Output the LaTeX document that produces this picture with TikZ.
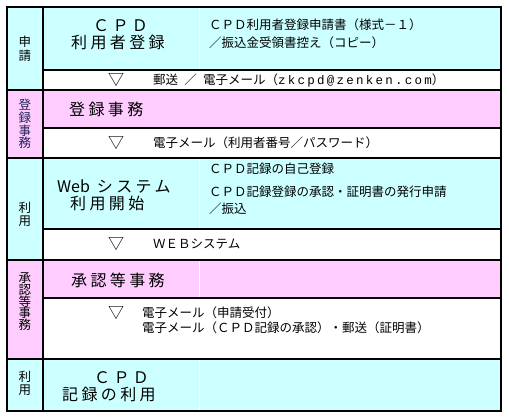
\documentclass[tikz,border=0pt]{standalone}
\usepackage{fontspec}
\setmainfont{Noto Sans CJK JP}
\newfontfamily\bigf[LetterSpace=21]{Noto Sans CJK JP}
\newfontfamily\plainf{Noto Sans CJK JP}
\newfontfamily\monof[LetterSpace=18]{Liberation Mono}
\definecolor{cy}{HTML}{CCFFFF}
\definecolor{pk}{HTML}{FFCCFF}
\definecolor{navy}{HTML}{222255}
\begin{document}
\begin{tikzpicture}[x=1pt,y=-1pt,
  big/.style={inner sep=0pt,anchor=west,text height=12pt,text depth=0pt,font=\bigf\fontsize{16}{16}\selectfont},
  small/.style={inner sep=0pt,anchor=west,font=\fontsize{12.5}{12.5}\selectfont},
  side/.style={inner sep=0pt,font=\fontsize{12.5}{12.5}\selectfont},
  tri/.style={inner sep=0pt,font=\fontsize{16}{16}\selectfont},
  rule/.style={line width=1.1pt},
  wdiv/.style={white,line width=1pt}]
\useasboundingbox (0,0) rectangle (509,418);
% backgrounds
\fill[white] (7,7) rectangle (501,411);
\fill[cy] (7,7) rectangle (501,70);
\fill[cy] (7,7) rectangle (43,90);
\fill[pk] (7,90) rectangle (501,128);
\fill[pk] (7,90) rectangle (43,158);
\fill[cy] (7,158) rectangle (501,229);
\fill[cy] (7,158) rectangle (43,260);
\fill[pk] (7,260) rectangle (501,298);
\fill[pk] (7,260) rectangle (43,359);
\fill[cy] (7,359) rectangle (501,411);
% white dividers
\draw[wdiv] (199,8) -- (199,69);
\draw[wdiv] (199,159) -- (199,228);
\draw[wdiv] (199,261) -- (199,297);
\draw[wdiv] (199,360) -- (199,410);
% rules
\draw[rule] (7,90) -- (501,90);
\draw[rule] (7,158) -- (501,158);
\draw[rule] (7,260) -- (501,260);
\draw[rule] (7,359) -- (501,359);
\draw[rule] (43,70) -- (501,70);
\draw[rule] (43,128) -- (501,128);
\draw[rule] (43,229) -- (501,229);
\draw[rule] (43,298) -- (501,298);
\draw[rule] (43,7) -- (43,411);
\draw[rule] (7,7) rectangle (501,411);
% left column
\node[side] (s1a) at (25,42) {申};
\node[side] (s1b) at (25,56) {請};
\node[side,navy] (s2a) at (25,105) {登};
\node[side,navy] (s2b) at (25,118) {録};
\node[side,navy] (s2c) at (25,131) {事};
\node[side,navy] (s2d) at (25,143) {務};
\node[side] (s3a) at (25,208) {利};
\node[side] (s3b) at (25,221) {用};
\node[side] (s4a) at (25,278) {承};
\node[side] (s4b) at (25,290) {認};
\node[side] (s4c) at (25,302) {等};
\node[side] (s4d) at (25,313) {事};
\node[side] (s4e) at (25,325) {務};
\node[side] (s5a) at (25,377) {利};
\node[side] (s5b) at (25,390) {用};
% row 1
\node[big] (r1a) at (93,25) {ＣＰＤ};
\node[big] (r1b) at (71,42) {利用者登録};
\node[small] (r1c) at (209,25) {ＣＰＤ利用者登録申請書（様式－１）};
\node[small] (r1d) at (209,43) {／振込金受領書控え（コピー）};
\node[tri] (t1) at (116,80) {▽};
\node[small] (r1e) at (153,80) {郵送\enspace{}／\enspace{}電子メール（{\monof\fontsize{12.5}{12.5}\selectfont zkcpd@zenken.com}）};
% row 2
\node[big] (r2a) at (69,109) {登録事務};
\node[tri] (t2) at (116,143) {▽};
\node[small] (r2b) at (153,143) {電子メール（利用者番号／パスワード）};
% row 3
\node[big] (r3a) at (57,186) {{\plainf Web} システム};
\node[big] (r3b) at (70,203) {利用開始};
\node[small] (r3c) at (209,169) {ＣＰＤ記録の自己登録};
\node[small] (r3d) at (209,192) {ＣＰＤ記録登録の承認・証明書の発行申請};
\node[small] (r3e) at (209,209) {／振込};
\node[tri] (t3) at (116,244) {▽};
\node[small] (r3f) at (153,244) {ＷＥＢシステム};
% row 4
\node[big] (r4a) at (71,280) {承認等事務};
\node[tri] (t4) at (116,313) {▽};
\node[small] (r4b) at (142,313) {電子メール（申請受付）};
\node[small] (r4c) at (142,328) {電子メール（ＣＰＤ記録の承認）・郵送（証明書）};
% row 5
\node[big] (r5a) at (94,377) {ＣＰＤ};
\node[big] (r5b) at (62,394) {記録の利用};
\end{tikzpicture}
\end{document}
